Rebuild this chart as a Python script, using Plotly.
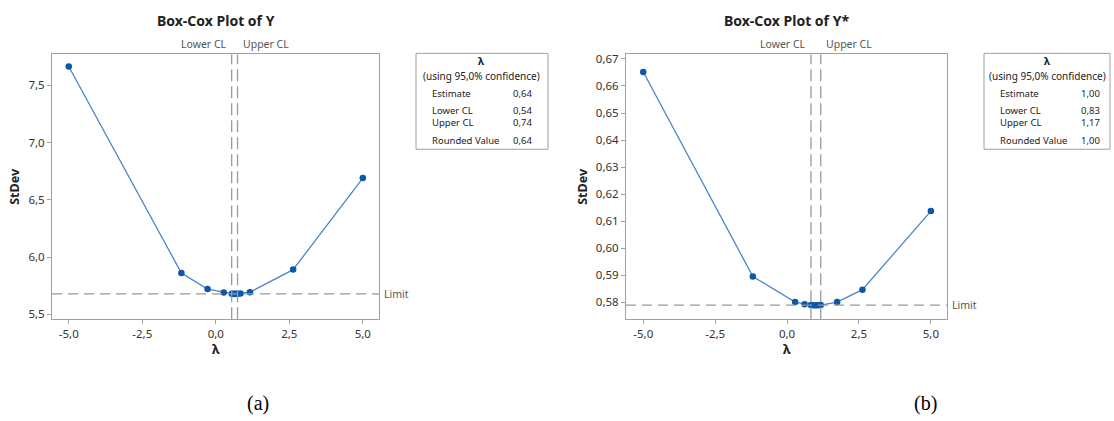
import plotly.graph_objects as go

# ---- data ----
lam_a = [-5.0, -1.17, -0.28, 0.27, 0.54, 0.59, 0.64, 0.69, 0.74, 0.84, 1.16, 2.63, 5.0]
sd_a = [7.664, 5.86, 5.72, 5.69, 5.680, 5.679, 5.678, 5.679, 5.680, 5.682, 5.693, 5.89, 6.69]
limit_a = 5.679
cl_a = [0.54, 0.74]

lam_b = [-5.0, -1.19, 0.28, 0.61, 0.83, 0.92, 1.00, 1.08, 1.17, 1.74, 2.62, 5.0]
sd_b = [0.6652, 0.5895, 0.5800, 0.5792, 0.5789, 0.5788, 0.5788, 0.5788, 0.5789, 0.5800, 0.5846, 0.6137]
limit_b = 0.5789
cl_b = [0.83, 1.17]

table_labels = ["Estimate", "Lower CL", "Upper CL", "Rounded Value"]
table_a = ["0,64", "0,54", "0,74", "0,64"]
table_b = ["1,00", "0,83", "1,17", "1,00"]

x_ticks = [-5, -2.5, 0, 2.5, 5]
x_ticktext = ["-5,0", "-2,5", "0,0", "2,5", "5,0"]

titles = ["Box-Cox Plot of Y", "Box-Cox Plot of Y*"]
captions = ["(a)", "(b)"]

W, H = 1114, 421
def px(x): return x / W
def py(y): return 1 - y / H

FONT = "Noto Sans"
LINE = "#4a86c8"
MARK = "#0b57a8"
GRAY = "#9a9a9a"

fig = go.Figure()

panels = [
    dict(lam=lam_a, sd=sd_a, limit=limit_a, cl=cl_a, tab=table_a, xa="x", ya="y",
         xd=[px(52), px(379)], xr=[-5.57, 5.55], yr=[5.457, 7.77], ydt=0.5, yfmt=".1f",
         tbox=(416, 548), tlab=430, tval=522, cap=258, ylab=15),
    dict(lam=lam_b, sd=sd_b, limit=limit_b, cl=cl_b, tab=table_b, xa="x2", ya="y2",
         xd=[px(626), px(947)], xr=[-5.6, 5.56], yr=[0.57367, 0.6717], ydt=0.01, yfmt=".2f",
         tbox=(984, 1110), tlab=998, tval=1090, cap=925, ylab=583),
]
ydom = [py(320), py(52)]

annotations = []
shapes = []
for i, p in enumerate(panels):
    fig.add_trace(go.Scatter(x=p["lam"], y=p["sd"], mode="lines+markers", xaxis=p["xa"], yaxis=p["ya"],
                             line=dict(color=LINE, width=1.3),
                             marker=dict(color=MARK, size=6.5), showlegend=False, hoverinfo="x+y"))
    sfx = "" if i == 0 else "2"
    axis_common = dict(showline=True, mirror=True, linecolor="#a0a0a0", linewidth=1,
                       ticks="outside", ticklen=4, tickcolor="#a0a0a0",
                       showgrid=False, zeroline=False,
                       tickfont=dict(family=FONT, size=11.5, color="#333"))
    fig.update_layout(**{
        "xaxis" + sfx: dict(domain=p["xd"], range=p["xr"], tickvals=x_ticks, ticktext=x_ticktext,
                            anchor="y" + sfx, **axis_common),
        "yaxis" + sfx: dict(domain=ydom, range=p["yr"], dtick=p["ydt"], tickformat=p["yfmt"],
                            anchor="x" + sfx, **axis_common),
    })
    xref, yref = p["xa"], p["ya"]
    # limit line
    shapes.append(dict(type="line", xref=xref + " domain", yref=yref, x0=0, x1=1,
                       y0=p["limit"], y1=p["limit"], line=dict(color=GRAY, width=1.3, dash="10px,6px")))
    for c in p["cl"]:
        shapes.append(dict(type="line", xref=xref, yref=yref + " domain", x0=c, x1=c, y0=0, y1=1,
                           line=dict(color=GRAY, width=1.3, dash="12px,5px")))
    annotations.append(dict(text="Limit", xref=xref + " domain", yref=yref, x=1, y=p["limit"],
                            xanchor="left", yanchor="middle", xshift=3, showarrow=False,
                            font=dict(family=FONT, size=10.5, color="#555")))
    annotations.append(dict(text="Lower CL", xref=xref, yref=yref + " domain", x=p["cl"][0], y=1,
                            xanchor="right", yanchor="bottom", xshift=-3, yshift=1, showarrow=False,
                            font=dict(family=FONT, size=10.5, color="#555")))
    annotations.append(dict(text="Upper CL", xref=xref, yref=yref + " domain", x=p["cl"][1], y=1,
                            xanchor="left", yanchor="bottom", xshift=3, yshift=1, showarrow=False,
                            font=dict(family=FONT, size=10.5, color="#555")))
    cx = (p["xd"][0] + p["xd"][1]) / 2
    annotations.append(dict(text="<b>" + titles[i] + "</b>", xref="paper", yref="paper", x=cx, y=py(18),
                            xanchor="center", yanchor="middle", showarrow=False,
                            font=dict(family=FONT, size=14, color="#222")))
    annotations.append(dict(text="<b>λ</b>", xref="paper", yref="paper", x=cx, y=py(350),
                            xanchor="center", yanchor="middle", showarrow=False,
                            font=dict(family=FONT, size=13, color="#222")))
    annotations.append(dict(text="<b>StDev</b>", xref="paper", yref="paper",
                            x=px(p["ylab"]), y=py(186), textangle=-90,
                            xanchor="center", yanchor="middle", showarrow=False,
                            font=dict(family=FONT, size=12.5, color="#222")))
    # table box
    x0, x1 = p["tbox"]
    shapes.append(dict(type="rect", xref="paper", yref="paper", x0=px(x0), x1=px(x1),
                       y0=py(148), y1=py(51), line=dict(color="#a0a0a0", width=1)))
    tcx = px((x0 + x1) / 2)
    annotations.append(dict(text="<b>λ</b>", xref="paper", yref="paper", x=tcx, y=py(59),
                            xanchor="center", yanchor="middle", showarrow=False,
                            font=dict(family=FONT, size=10.5, color="#222")))
    annotations.append(dict(text="(using 95,0% confidence)", xref="paper", yref="paper", x=tcx, y=py(74),
                            xanchor="center", yanchor="middle", showarrow=False,
                            font=dict(family=FONT, size=10, color="#222")))
    for lab, val, yy in zip(table_labels, p["tab"], [92, 109, 121, 139]):
        annotations.append(dict(text=lab, xref="paper", yref="paper", x=px(p["tlab"]), y=py(yy),
                                xanchor="left", yanchor="middle", showarrow=False,
                                font=dict(family=FONT, size=9.5, color="#222")))
        annotations.append(dict(text=val, xref="paper", yref="paper", x=px(p["tval"]), y=py(yy),
                                xanchor="center", yanchor="middle", showarrow=False,
                                font=dict(family=FONT, size=9.5, color="#222")))
    annotations.append(dict(text=captions[i], xref="paper", yref="paper", x=px(p["cap"]), y=py(405),
                            xanchor="center", yanchor="middle", showarrow=False,
                            font=dict(family="Liberation Serif", size=20, color="#000")))

fig.update_layout(width=W, height=H, margin=dict(l=0, r=0, t=0, b=0),
                  paper_bgcolor="white", plot_bgcolor="white", separators=", ",
                  annotations=annotations, shapes=shapes, showlegend=False)

fig.write_html("out.html", config={"displayModeBar": False},
               post_script="document.body.style.margin='0';document.body.style.overflow='hidden';")
